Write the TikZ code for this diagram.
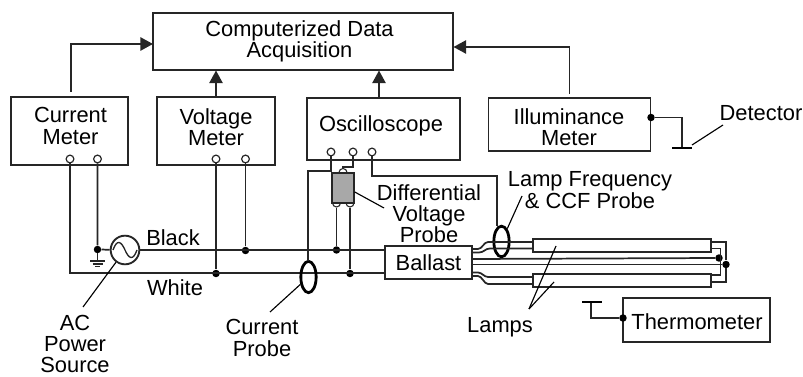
\documentclass[tikz,border=0pt]{standalone}
\usepackage{fontspec}
\setmainfont{Liberation Sans}
\usetikzlibrary{arrows.meta,shapes.geometric}
\definecolor{wire}{gray}{0.15}
\definecolor{probegray}{gray}{0.66}
\tikzset{
  x=0.75pt,y=-0.75pt,
  wireline/.style={draw=wire,line width=1.3pt},
  thinlead/.style={draw=black,line width=0.85pt},
  heavy/.style={draw=black,line width=2.1pt},
  arrowline/.style={wireline,-{Triangle[length=9.5pt,width=10pt]}},
  bx/.style={draw=wire,line width=1.3pt,fill=white,inner sep=0pt,minimum width=#1},
  lbl/.style={font=\fontsize{16.4pt}{15.9pt}\selectfont,align=center,inner sep=0pt,text=black},
  dot/.style={circle,fill=black,inner sep=0pt,minimum size=5.6pt},
  term/.style={circle,draw=wire,fill=white,line width=0.9pt,inner sep=0pt,minimum size=5.8pt},
  bump/.style={circle,draw=wire,fill=white,line width=.8pt,minimum size=6pt,inner sep=0pt},
  lampbox/.style={draw=wire,fill=white,line width=1.3pt,minimum width=133.5pt,minimum height=9.75pt,inner sep=0pt},
}
\begin{document}
\begin{tikzpicture}
\useasboundingbox (0,0) rectangle (803,377);
% boxes
\node[bx=225pt,minimum height=42.75pt] (cda) at (303,41.5) {};
\node[lbl] (cdat) at (299.5,41.5) {Computerized Data\\Acquisition};
\node[bx=87.75pt,minimum height=51pt] (cm) at (69.5,131) {};
\node[lbl] (cmt) at (70.5,126) {Current\\Meter};
\node[bx=88.5pt,minimum height=51pt] (vm) at (216,131) {};
\node[lbl] (vmt) at (216,127) {Voltage\\Meter};
\node[bx=114.75pt,minimum height=46.5pt] (osc) at (383.5,129) {};
\node[lbl] (osct) at (381,126) {Oscilloscope};
\node[bx=121.5pt,minimum height=39.75pt] (ill) at (569.5,124.5) {};
\node[lbl] (illt) at (569,127.5) {Illuminance\\Meter};
\node[bx=110pt,minimum height=33pt] (th) at (696.5,320) {};
\node[lbl] (tht) at (697,322) {Thermometer};
\node[bx=65.25pt,minimum height=24.75pt,lbl] (bal) at (428.5,262.5) {Ballast};
% arrows to the acquisition box
\coordinate (cmtop) at (71,92);
\coordinate (illtop) at (569.5,94);
\draw[arrowline] (cmtop) |- (153,44);
\draw[arrowline] (216,97) -- (216,70.5);
\draw[arrowline] (379,98) -- (379,70.5);
\draw[arrowline] (illtop) |- (453.5,47);
% terminals
\node[term] (c1) at (70,159) {};
\node[term] (c2) at (97.5,159) {};
\node[term] (v1) at (216,159) {};
\node[term] (v2) at (245.5,159) {};
\node[term] (o1) at (331,152) {};
\node[term] (o2) at (353,152) {};
\node[term] (o3) at (372,152) {};
% source
\node[circle,draw=wire,line width=1.4pt,minimum size=21.5pt,inner sep=0pt] (src) at (125,250) {};
\draw[draw=wire,line width=1pt] (113,250) .. controls (117,239) and (121,241) .. (125,250) .. controls (129,259) and (133,261) .. (137,250);
\node[dot] (gnd) at (97.5,249.5) {};
\node[dot] (dv2) at (245.5,250.5) {};
\node[dot] (dw1) at (216,273.5) {};
\node[dot] (dp1) at (336.5,250) {};
\node[dot] (dp2) at (350,273.5) {};
% mains wiring
\draw[wireline] (c1) -- (70,273) -- (bal.west |- 0,273);
\draw[wireline] (c2) -- (gnd) -- (src);
\draw[wireline] (src) -- (bal.west |- 0,250);
\draw[wireline] (v1) -- (dw1);
\draw[wireline] (v2) -- (dv2);
\draw[wireline,line width=1pt] (gnd) -- (97.5,261);
\draw[wireline,line width=1pt] (90,261) -- (105,261) (92.5,264) -- (102.5,264) (95,266.5) -- (100,266.5);
% differential probe
\node[bump] (pt) at (343,172.5) {};
\node[bump] (pb1) at (336.5,203) {};
\node[bump] (pb2) at (350,203) {};
\node[draw=wire,fill=probegray,line width=1.1pt,minimum width=16.5pt,minimum height=22.5pt,inner sep=0pt] (probe) at (343,188) {};
\draw[wireline] (pb1.south) -- (dp1);
\draw[wireline] (pb2.south) -- (dp2);
\draw[wireline] (o2) -- (353,167) -- (343,167) -- (pt.north);
% scope leads and clamp probes
\node[ellipse,heavy,minimum width=11.5pt,minimum height=23.5pt,inner sep=0pt] (cp) at (308.5,277) {};
\node[ellipse,heavy,minimum width=11.5pt,minimum height=23pt,inner sep=0pt] (lp) at (501.5,241.5) {};
\draw[wireline] (o1) -- (331,171) -- (308,171) -- (308,261.5);
\draw[wireline] (o3) -- (372,176) -- (497,176) -- (497,226.5);
% lamps
\node[lampbox] (l1) at (622,245.5) {};
\node[lampbox] (l2) at (622,280.5) {};
\node[dot] (j1) at (719,258) {};
\node[dot] (j2) at (726,264.5) {};
% ballast to lamp wires
\draw[wireline] (472,249) -- (478,249) .. controls (482,249) and (484,242) .. (488,242) -- (l1.west |- 0,242);
\draw[wireline] (472,252.5) -- (479,252.5) .. controls (484,252.5) and (485,248.5) .. (490,248.5) -- (l1.west |- 0,248.5);
\draw[wireline] (472,259) -- (j1);
\draw[wireline] (472,264.5) -- (j2);
\draw[wireline] (472,272.5) -- (478,272.5) .. controls (482,272.5) and (484,277) .. (488,277) -- (l2.west |- 0,277);
\draw[wireline] (472,276) -- (478,276) .. controls (482,276) and (484,284) .. (488,284) -- (l2.west |- 0,284);
% lamp ends to the junctions
\draw[wireline] (l1.east |- 0,242) -- (726,242) -- (j2);
\draw[wireline] (l1.east |- 0,248.5) -- (720.5,248.5) -- (720.5,258);
\draw[wireline] (l2.east |- 0,275) -- (720.5,275) -- (720.5,258);
\draw[wireline] (l2.east |- 0,282) -- (726,282) -- (j2);
% sensors
\node[dot] (dd) at (651,117.5) {};
\coordinate (dbar) at (682,148);
\draw[wireline] (dd) -| (dbar);
\draw[heavy] (672,148) -- (691.5,148);
\node[dot] (td) at (623,318) {};
\coordinate (tbar) at (591,302);
\draw[wireline] (td) -| (tbar);
\draw[heavy] (582,302) -- (601.5,302);
% labels
\node[lbl] (black) at (173,238) {Black};
\node[lbl] (white) at (175,288) {White};
\node[lbl] (ac) at (75,344) {AC\\Power\\Source};
\node[lbl] (cpt) at (262,338) {Current\\Probe};
\node[lbl] (dvp) at (429,213.5) {Differential\\Voltage\\Probe};
\node[lbl] (lfp) at (590,190) {Lamp Frequency\\\& CCF Probe};
\node[lbl] (lamps) at (500,327) {Lamps};
\node[lbl] (det) at (761,113) {Detector};
% leaders
\coordinate (acl) at (83,307);
\coordinate (cpl) at (270,312);
\coordinate (dvl) at (384,208);
\coordinate (lfl) at (522,196);
\coordinate (detl) at (723,125);
\coordinate (lampv) at (529,309);
\draw[thinlead] (src) -- (acl);
\draw[thinlead] (cp) -- (cpl);
\draw[thinlead] (probe.east |- 0,192) -- (dvl);
\draw[thinlead] (lp) -- (lfl);
\draw[thinlead] (692,145) -- (detl);
\draw[thinlead] (lampv) -- (556,246);
\draw[thinlead] (lampv) -- (554,282);
\end{tikzpicture}
\end{document}
